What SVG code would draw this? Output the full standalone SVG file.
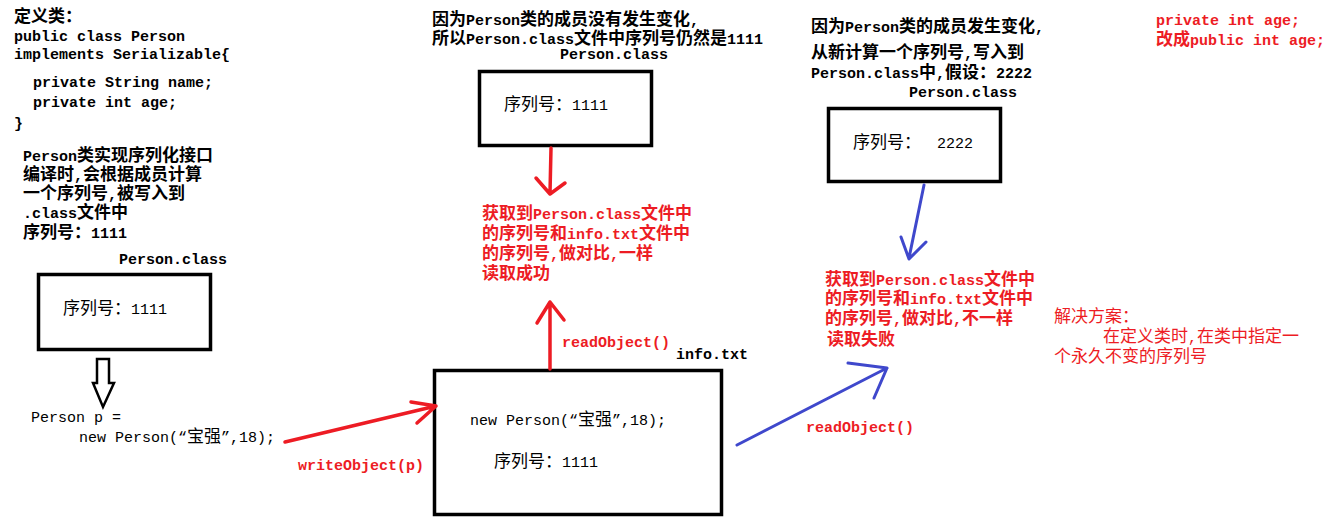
<svg xmlns="http://www.w3.org/2000/svg" width="1327" height="519" viewBox="0 0 1327 519">
<style>
.t { font-family: "Liberation Mono", "Noto Sans CJK SC", monospace; font-size: 15px; fill: #000; }
.k { font-family: "Noto Sans CJK SC", sans-serif; font-size: 17px; }
.b { font-weight: bold; }
.r { fill: #ED1C24; }
.box { fill: none; stroke: #000; stroke-width: 3.5; }
.ra { fill: none; stroke: #ED1C24; stroke-width: 3.5; stroke-linecap: round; stroke-linejoin: round; }
.ba { fill: none; stroke: #3F48CC; stroke-width: 3; stroke-linecap: round; stroke-linejoin: round; }
</style>
<rect width="1327" height="519" fill="#fff"/>

<g id="class-def">
<text class="t b" x="14" y="22"><tspan class="k">定义类：</tspan></text>
<text class="t b" x="14" y="41">public class Person</text>
<text class="t b" x="14" y="59">implements Serializable{</text>
<text class="t b" x="33" y="87">private String name;</text>
<text class="t b" x="33" y="107">private int age;</text>
<text class="t b" x="14" y="128">}</text>
<text class="t b" x="23" y="161">Person<tspan class="k">类实现序列化接口</tspan></text>
<text class="t b" x="23" y="180"><tspan class="k">编译时</tspan>,<tspan class="k">会根据成员计算</tspan></text>
<text class="t b" x="23" y="199"><tspan class="k">一个序列号</tspan>,<tspan class="k">被写入到</tspan></text>
<text class="t b" x="23" y="218">.class<tspan class="k">文件中</tspan></text>
<text class="t b" x="23" y="238"><tspan class="k">序列号：</tspan>1111</text>
</g>

<g id="person-class-1">
<text class="t b" x="119" y="264">Person.class</text>
<rect class="box" x="38.5" y="274.5" width="172" height="75"/>
<text class="t" x="63" y="314"><tspan class="k">序列号：</tspan>1111</text>
</g>

<g id="new-person">
<text class="t" x="31" y="422">Person p =</text>
<text class="t" x="79" y="442">new Person(“<tspan class="k">宝强</tspan>”,18);</text>
</g>

<g id="top-middle-note">
<text class="t b" x="432" y="25"><tspan class="k">因为</tspan>Person<tspan class="k">类的成员没有发生变化</tspan>,</text>
<text class="t b" x="432" y="44"><tspan class="k">所以</tspan>Person.class<tspan class="k">文件中序列号仍然是</tspan>1111</text>
</g>

<g id="person-class-2">
<text class="t b" x="560" y="59">Person.class</text>
<rect class="box" x="479.5" y="71.5" width="172" height="74"/>
<text class="t" x="504" y="110"><tspan class="k">序列号：</tspan>1111</text>
</g>

<g id="success-note">
<text class="t b r" x="482" y="219"><tspan class="k">获取到</tspan>Person.class<tspan class="k">文件中</tspan></text>
<text class="t b r" x="482" y="239"><tspan class="k">的序列号和</tspan>info.txt<tspan class="k">文件中</tspan></text>
<text class="t b r" x="482" y="259"><tspan class="k">的序列号</tspan>,<tspan class="k">做对比</tspan>,<tspan class="k">一样</tspan></text>
<text class="t b r" x="482" y="279"><tspan class="k">读取成功</tspan></text>
</g>

<g id="info-txt">
<text class="t b" x="676" y="359">info.txt</text>
<rect class="box" x="434.5" y="370.5" width="287" height="144"/>
<text class="t" x="470" y="425">new Person(“<tspan class="k">宝强</tspan>”,18);</text>
<text class="t" x="494" y="467"><tspan class="k">序列号：</tspan>1111</text>
</g>

<g id="top-right-note">
<text class="t b" x="811" y="32"><tspan class="k">因为</tspan>Person<tspan class="k">类的成员发生变化</tspan>,</text>
<text class="t b" x="811" y="58"><tspan class="k">从新计算一个序列号</tspan>,<tspan class="k">写入到</tspan></text>
<text class="t b" x="811" y="78">Person.class<tspan class="k">中</tspan>,<tspan class="k">假设：</tspan>2222</text>
</g>

<g id="change-note">
<text class="t b r" x="1156" y="25">private int age;</text>
<text class="t b r" x="1156" y="45"><tspan class="k">改成</tspan>public int age;</text>
</g>

<g id="person-class-3">
<text class="t b" x="909" y="97">Person.class</text>
<rect class="box" x="828.5" y="108.5" width="172" height="73"/>
<text class="t" x="853" y="148"><tspan class="k">序列号：</tspan><tspan x="937">2222</tspan></text>
</g>

<g id="fail-note">
<text class="t b r" x="825" y="285"><tspan class="k">获取到</tspan>Person.class<tspan class="k">文件中</tspan></text>
<text class="t b r" x="825" y="304"><tspan class="k">的序列号和</tspan>info.txt<tspan class="k">文件中</tspan></text>
<text class="t b r" x="825" y="324"><tspan class="k">的序列号</tspan>,<tspan class="k">做对比</tspan>,<tspan class="k">不一样</tspan></text>
<text class="t b r" x="827" y="345"><tspan class="k">读取失败</tspan></text>
</g>

<g id="solution-note">
<text class="t r" x="1054" y="322"><tspan class="k">解决方案：</tspan></text>
<text class="t r" x="1103" y="342"><tspan class="k">在定义类时</tspan>,<tspan class="k">在类中指定一</tspan></text>
<text class="t r" x="1054" y="362"><tspan class="k">个永久不变的序列号</tspan></text>
</g>

<g id="connectors">
<polygon points="97,359 109,359 109,383 114,383 103,407 93,383 97,383" fill="#fff" stroke="#000" stroke-width="2.5" stroke-linejoin="miter"/>
<path class="ra" d="M551,148 L550,193 M536,178 L550,194 L565,183"/>
<path class="ra" d="M550,369 L550,302 M537,323 L550,302 L564,320"/>
<path class="ra" d="M285,442 L436,406 M411,402 L436,406 L417,423"/>
<path class="ba" d="M924,185 L909,258 M901,237 L909,259 L926,242"/>
<path class="ba" d="M737,445 L887,368 M848,363 L887,368 L874,398"/>
<text class="t b r" x="298" y="470">writeObject(p)</text>
<text class="t b r" x="562" y="347">readObject()</text>
<text class="t b r" x="806" y="432">readObject()</text>
</g>
</svg>
